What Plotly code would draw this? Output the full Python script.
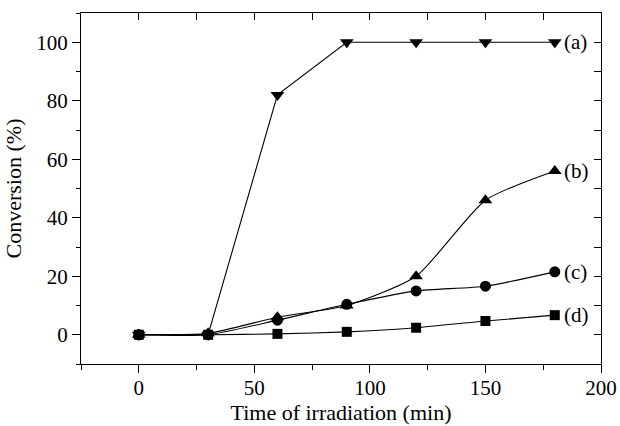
import plotly.graph_objects as go

time = [0, 30, 60, 90, 120, 150, 180]
conv_a = [0, 0, 82, 100, 100, 100, 100]
conv_b = [0, 0.5, 6, 10, 20, 46, 56]
conv_c = [0, 0, 5, 10.4, 15, 16.6, 21.5]
conv_d = [0, 0, 0.3, 1.0, 2.4, 4.7, 6.7]
labels = ["(a)", "(b)", "(c)", "(d)"]

FONT = "Liberation Serif, Times New Roman, serif"

fig = go.Figure()

series = [
    (conv_a, "triangle-down", 12, "linear"),
    (conv_b, "triangle-up", 12, "spline"),
    (conv_c, "circle", 11, "spline"),
    (conv_d, "square", 10, "spline"),
]
for ys, sym, sz, shape in series:
    fig.add_trace(go.Scatter(
        x=time, y=ys, mode="lines+markers",
        line=dict(color="black", width=1.1, shape=shape, smoothing=0.6),
        marker=dict(symbol=sym, size=sz, color="black"),
        showlegend=False, cliponaxis=False,
    ))

# invisible trace for mirrored axes
fig.add_trace(go.Scatter(x=[0], y=[0], xaxis="x2", yaxis="y2", mode="markers",
                         marker=dict(opacity=0), showlegend=False, hoverinfo="skip"))

for ys, lab in zip([conv_a, conv_b, conv_c, conv_d], labels):
    fig.add_annotation(x=time[-1], y=ys[-1], text=lab, showarrow=False,
                       xanchor="left", yanchor="middle", xshift=7,
                       font=dict(family=FONT, size=21, color="black"))

fig.update_layout(
    width=620, height=426,
    margin=dict(l=81, r=19, t=13, b=62, autoexpand=False),
    paper_bgcolor="white", plot_bgcolor="white",
    font=dict(family=FONT, size=21, color="black"),
    xaxis=dict(
        range=[-25, 200], tickmode="linear", tick0=0, dtick=50, automargin=False,
        ticks="outside", ticklen=8, tickwidth=1.2, tickcolor="black",
        tickfont=dict(family=FONT, size=21), ticklabelstandoff=-3,
        minor=dict(tick0=0, dtick=25, ticks="outside", ticklen=5, tickwidth=1.2, tickcolor="black"),
        showline=True, linecolor="black", linewidth=1.2,
        showgrid=False, zeroline=False,
        title=dict(text="Time of irradiation (min)", font=dict(family=FONT, size=22), standoff=4),
    ),
    yaxis=dict(
        range=[-10, 110], tickmode="linear", tick0=0, dtick=20, automargin=False,
        ticks="outside", ticklen=8, tickwidth=1.2, tickcolor="black",
        tickfont=dict(family=FONT, size=21),
        minor=dict(tick0=0, dtick=10, ticks="outside", ticklen=4, tickwidth=1.2, tickcolor="black"),
        showline=True, linecolor="black", linewidth=1.2,
        showgrid=False, zeroline=False,
        title=dict(text="Conversion (%)", font=dict(family=FONT, size=22), standoff=8),
    ),
    xaxis2=dict(
        overlaying="x", side="top", range=[-25, 200], tickmode="linear", tick0=0, dtick=50,
        ticks="inside", ticklen=7, tickwidth=1.2, tickcolor="black", automargin=False,
        minor=dict(tick0=0, dtick=25, ticks="inside", ticklen=7, tickwidth=1.2, tickcolor="black"),
        showticklabels=False, showline=True, linecolor="black", linewidth=1.2,
        showgrid=False, zeroline=False,
    ),
    yaxis2=dict(
        overlaying="y", side="right", range=[-10, 110], tickmode="linear", tick0=0, dtick=20,
        ticks="inside", ticklen=7, tickwidth=1.2, tickcolor="black", automargin=False,
        minor=dict(tick0=0, dtick=10, ticks="inside", ticklen=7, tickwidth=1.2, tickcolor="black"),
        showticklabels=False, showline=True, linecolor="black", linewidth=1.2,
        showgrid=False, zeroline=False,
    ),
)

fig.write_html("out.html")
